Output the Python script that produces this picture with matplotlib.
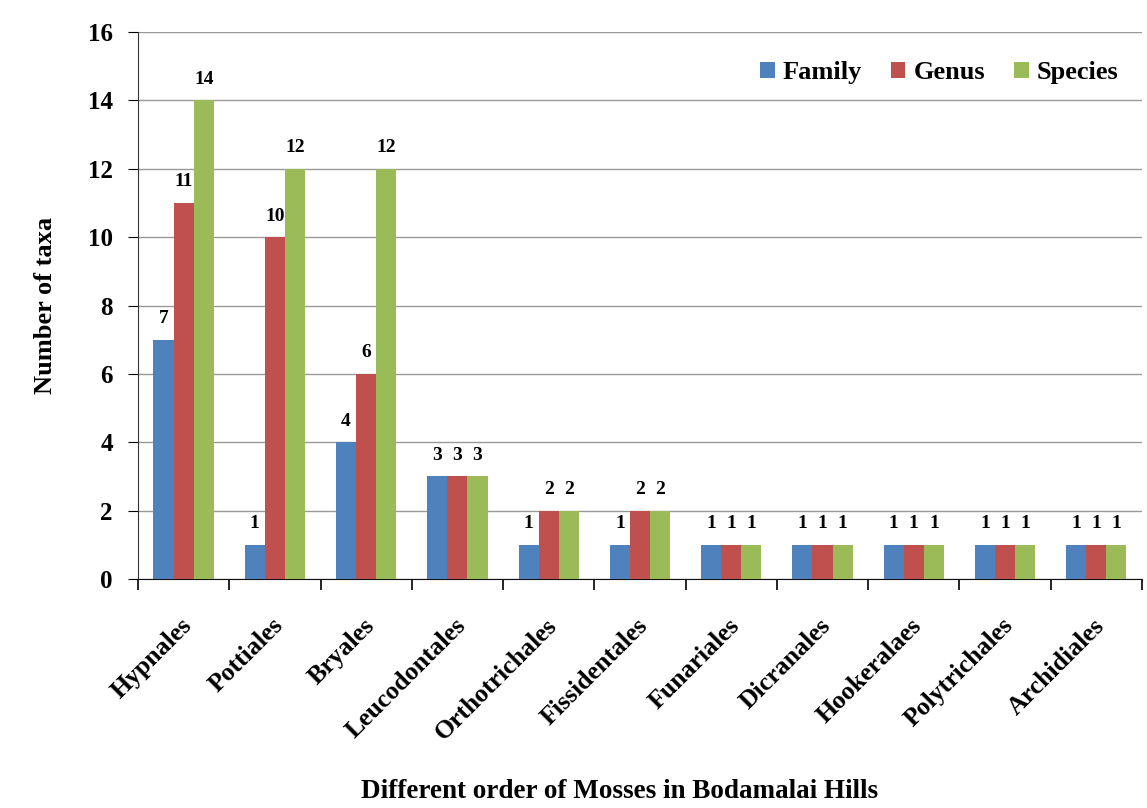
import matplotlib.pyplot as plt
import numpy as np

orders = ['Hypnales', 'Pottiales', 'Bryales', 'Leucodontales', 'Orthotrichales',
          'Fissidentales', 'Funariales', 'Dicranales', 'Hookeralaes',
          'Polytrichales', 'Archidiales']
family = [7, 1, 4, 3, 1, 1, 1, 1, 1, 1, 1]
genus = [11, 10, 6, 3, 2, 2, 1, 1, 1, 1, 1]
species = [14, 12, 12, 3, 2, 2, 1, 1, 1, 1, 1]

plt.rcParams['font.family'] = ['Liberation Serif', 'DejaVu Serif']
plt.rcParams['font.weight'] = 'bold'

fig = plt.figure(figsize=(11.47, 8.08), dpi=100)
ax = fig.add_axes([0.1203, 0.2834, 0.8753, 0.677])

x = np.arange(len(orders))
w = 0.22
series = [(family, 'Family', '#4F81BD'),
          (genus, 'Genus', '#C0504D'),
          (species, 'Species', '#9BBB59')]
for i, (vals, name, col) in enumerate(series):
    bars = ax.bar(x + (i - 1) * w, vals, w, color=col, label=name, zorder=3)
    ax.bar_label(bars, padding=9, fontsize=14, fontweight='bold')

ax.set_ylim(0, 16)
ax.set_yticks(range(0, 17, 2))
ax.set_xlim(-0.5, len(orders) - 0.5)
ax.yaxis.grid(True, color='#999999', linewidth=1)
ax.set_axisbelow(True)
for s in ['top', 'right']:
    ax.spines[s].set_visible(False)
ax.spines['left'].set_color('#333333')
ax.spines['bottom'].set_color('#111111')

# category ticks sit between the groups
ax.set_xticks(np.arange(len(orders) + 1) - 0.5)
ax.set_xticklabels([])
ax.tick_params(axis='x', length=8, width=1.2, direction='out')
ax.set_xticks(x + 0.05, minor=True)
ax.set_xticklabels(orders, minor=True, rotation=45, ha='right', va='center',
                   rotation_mode='anchor', fontsize=18.5, fontweight='bold')
ax.tick_params(axis='x', which='minor', length=0, pad=31)
ax.tick_params(axis='y', labelsize=18, length=7, pad=11)
for t in ax.get_yticklabels():
    t.set_fontweight('bold')

ax.set_ylabel('Number of taxa', fontsize=19, fontweight='bold', labelpad=22)
fig.text(0.54, 0.012, 'Different order of Mosses in Bodamalai Hills',
         ha='center', fontsize=19.5, fontweight='bold')

ax.legend(loc='upper right', bbox_to_anchor=(1.0, 0.99), ncol=3, frameon=False,
          prop={'size': 19, 'weight': 'bold'}, handlelength=0.55, handleheight=0.55,
          columnspacing=1.1, handletextpad=0.3)

fig.savefig('out.png', dpi=100)
